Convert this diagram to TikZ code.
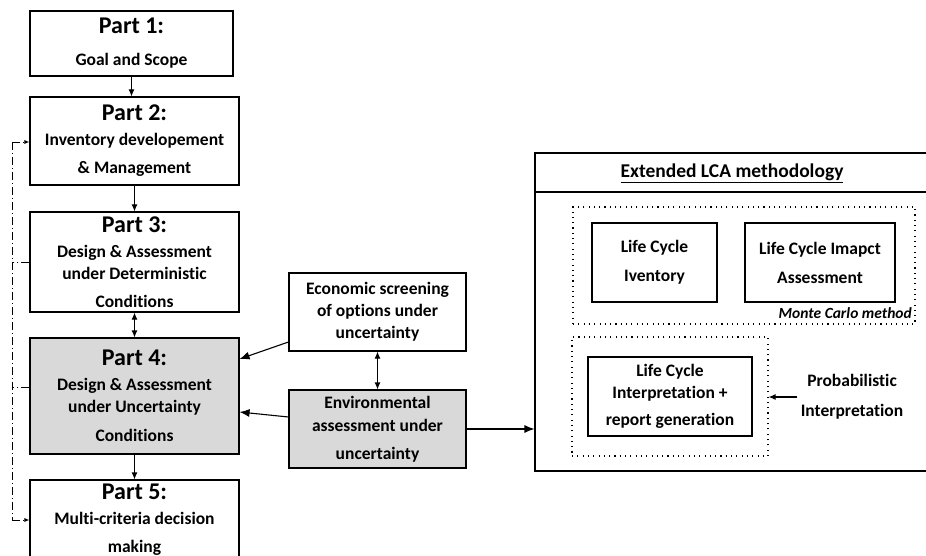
\documentclass[tikz,border=0pt]{standalone}
\usepackage{fontspec}
\setmainfont{Carlito}[Ligatures={NoCommon,NoContextual}]
\usetikzlibrary{arrows.meta}
\definecolor{shade}{RGB}{217,217,217}
\newcommand{\parttitle}[1]{{\fontsize{24}{26}\selectfont #1}}

\begin{document}
\begin{tikzpicture}[x=1pt,y=-1pt,
  every node/.style={font=\fontsize{17.5}{22}\selectfont\bfseries},
  box/.style={draw,line width=1.1pt,align=center,inner sep=0pt},
  dotbox/.style={draw,line width=1.2pt,dash pattern=on 1.1pt off 4.2pt},
  link/.style={line width=1.1pt,-{Latex[length=7pt,width=6pt]}},
  dlink/.style={line width=1.1pt,{Latex[length=7pt,width=6pt]}-{Latex[length=7pt,width=6pt]}},
  biglink/.style={line width=1.1pt,-{Latex[length=10pt,width=8pt]}},
  fback/.style={line width=0.9pt,dash pattern=on 8pt off 3pt on 1pt off 3pt}]
\useasboundingbox (0,0) rectangle (926,556);
\clip (0,0) rectangle (926,556);

% the five parts of the framework
\node[box,minimum width=203pt,minimum height=65pt] (p1) at (131.5,43.5) {\parttitle{Part 1:}\\[10pt]Goal and Scope};
\node[box,minimum width=209pt,minimum height=88pt] (p2) at (134.5,141) {\parttitle{Part 2:}\\[3pt]Inventory developement\\[6pt]\& Management};
\node[box,minimum width=209pt,minimum height=100pt] (p3) at (134.5,262) {\parttitle{Part 3:}\\[3pt]Design \& Assessment\\under Deterministic\\[6pt]Conditions};
\node[box,fill=shade,minimum width=209pt,minimum height=116pt] (p4) at (134.5,396) {\parttitle{Part 4:}\\[3pt]Design \& Assessment\\under Uncertainty\\[7pt]Conditions};
\node[box,minimum width=209pt,minimum height=80pt] (p5) at (134.5,520) {\parttitle{Part 5:}\\[3pt]Multi-criteria decision\\[6pt]making};

% screening and assessment
\node[box,minimum width=177pt,minimum height=78pt] (econ) at (377.5,312) {Economic screening\\of options under\\uncertainty};
\node[box,fill=shade,minimum width=177pt,minimum height=78pt] (env) at (377.5,429) {Environmental\\[1pt]assessment under\\[6pt]uncertainty};

% extended LCA panel
\node[box,minimum width=394pt,minimum height=318pt] (lca) at (732,312) {};
\draw[line width=1.1pt] (lca.west |- 0,192) -- (lca.east |- 0,192);
\node (lcatitle) at (732,173) {\fontsize{19.5}{22}\selectfont\underline{Extended LCA methodology}};
\node[dotbox,minimum width=342pt,minimum height=117pt] (mc) at (744,265.5) {};
\node[box,minimum width=125pt,minimum height=79pt] (lci) at (654.5,262.5) {Life Cycle\\[7pt]Iventory};
\node[box,minimum width=150pt,minimum height=79pt] (lcia) at (820,262.5) {Life Cycle Imapct\\[7pt]Assessment};
\node[anchor=east,inner sep=0pt,font=\fontsize{15.5}{18}\selectfont\bfseries\itshape] (monte) at (912,313) {Monte Carlo method};
\node[dotbox,minimum width=196pt,minimum height=119pt] (interpdots) at (670,396.5) {};
\node[box,minimum width=164pt,minimum height=79pt] (interp) at (670,396.5) {Life Cycle\\Interpretation +\\[5pt]report generation};
\node[align=center] (prob) at (852,397) {Probabilistic\\[8pt]Interpretation};

% flow between the parts
\draw[link] (p1.south) -- (p1.south |- p2.north);
\draw[link] (p2.south) -- (p3.north);
\draw[dlink] (p3.south) -- (p4.north);
\draw[link] (p4.south) -- (p5.north);
\draw[biglink] (econ.west |- 0,342) -- (p4.east |- 0,359);
\draw[biglink] (env.west |- 0,417) -- (p4.east |- 0,412);
\draw[dlink] (econ.south) -- (env.north);
\draw[biglink] (env.east) -- (env.east -| lca.west);
\draw[link] (prob.west) -- (prob.west -| interpdots.east);

% feedback loop on the left
\coordinate (fbtop) at (12,142);
\coordinate (fbbot) at (12,520);
\draw[fback] (fbtop) -- (fbbot);
\draw[fback,-{Latex[length=5pt,width=4pt]}] (fbtop) -- (fbtop -| p2.west);
\draw[fback,-{Latex[length=5pt,width=4pt]}] (fbbot) -- (fbbot -| p5.west);
\draw[fback] (p3.west) -- (p3.west -| fbtop);
\draw[fback] (p4.west |- 0,387) -- (fbtop |- 0,387);
\end{tikzpicture}
\end{document}
